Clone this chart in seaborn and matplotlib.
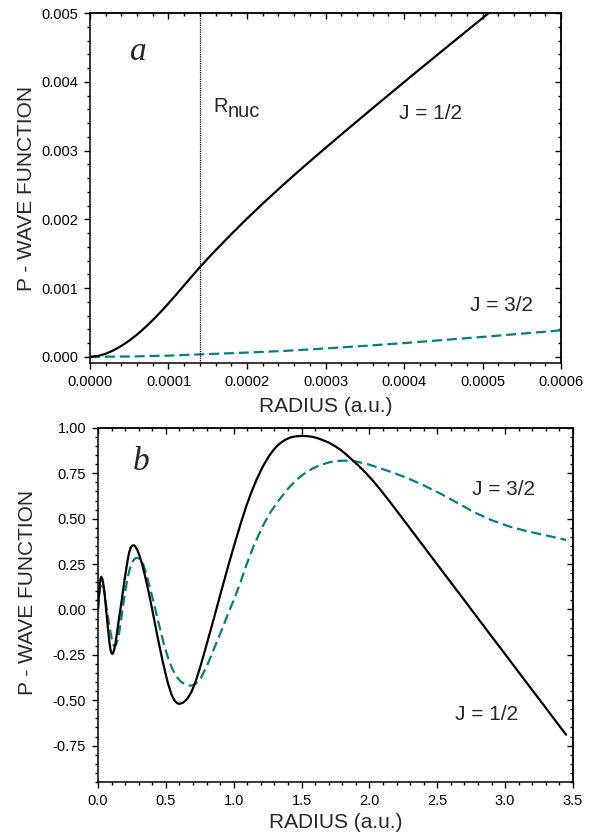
import matplotlib
matplotlib.use('Agg')
import matplotlib.pyplot as plt
import seaborn as sns
from matplotlib.ticker import MultipleLocator, FormatStrFormatter, NullFormatter

# ---- panel a: close to the nucleus ----
r_a_half = [0, 0.00001, 0.00002, 0.00003, 0.00004, 0.00005, 0.00006, 0.00007, 0.00008,
            0.00009, 0.0001, 0.00011, 0.00012, 0.00013, 0.00014, 0.00015, 0.00016,
            0.00018, 0.0002, 0.00022, 0.00024, 0.00026, 0.00028, 0.0003, 0.00032,
            0.00034, 0.00036, 0.00038, 0.0004, 0.00042, 0.00044, 0.00046, 0.00048,
            0.0005, 0.00052]
psi_a_half = [0, 0.000012, 0.000045, 0.000095, 0.000159, 0.000236, 0.000325, 0.000425,
              0.000535, 0.000653, 0.000778, 0.000908, 0.001041, 0.001174, 0.001304,
              0.001429, 0.00155, 0.001784, 0.00201, 0.002228, 0.002438, 0.002642,
              0.002842, 0.003038, 0.003232, 0.003424, 0.003615, 0.003805, 0.003994,
              0.004182, 0.004369, 0.004555, 0.004741, 0.004926, 0.005111]

r_a_3half = [0, 0.00005, 0.0001, 0.00014, 0.0002, 0.00025, 0.0003, 0.00035, 0.0004,
             0.00045, 0.0005, 0.00055, 0.0006]
psi_a_3half = [0, 0.000005, 0.000018, 0.000036, 0.000062, 0.000088, 0.000122, 0.00016,
               0.0002, 0.000245, 0.00029, 0.000337, 0.000386]

r_nuc = 0.00014

# ---- panel b: whole atom ----
r_b_half = [0, 0.006, 0.012, 0.018, 0.025, 0.031, 0.037, 0.043, 0.049, 0.06, 0.0735,
            0.084, 0.0934, 0.1, 0.106, 0.113, 0.12, 0.128, 0.14, 0.152, 0.168, 0.184,
            0.2, 0.216, 0.228, 0.24, 0.252, 0.2625, 0.275, 0.29, 0.3066, 0.325, 0.3434,
            0.362, 0.38, 0.4047, 0.4414, 0.478, 0.5, 0.515, 0.54, 0.564, 0.585, 0.601,
            0.63, 0.66, 0.69, 0.72, 0.75, 0.785, 0.82, 0.858, 0.895, 0.932, 0.968,
            1.005, 1.05, 1.091, 1.13, 1.17, 1.213, 1.26, 1.30, 1.336, 1.38, 1.42, 1.46,
            1.50, 1.537, 1.58, 1.62, 1.66, 1.704, 1.75, 1.79, 1.83, 1.875, 1.92, 1.97,
            2.02, 2.071, 2.13, 2.2, 2.292, 2.41, 2.537, 2.66, 2.782, 2.9, 3.027, 3.15,
            3.272, 3.36, 3.449]
psi_b_half = [0, 0.07, 0.13, 0.168, 0.18, 0.172, 0.15, 0.12, 0.085, 0.0, -0.105,
              -0.18, -0.225, -0.241, -0.245, -0.238, -0.22, -0.19, -0.13, -0.065, 0.015,
              0.1, 0.185, 0.26, 0.31, 0.339, 0.352, 0.354, 0.348, 0.328, 0.295, 0.25,
              0.195, 0.135, 0.072, -0.02, -0.16, -0.29, -0.36, -0.405, -0.465, -0.502,
              -0.517, -0.52, -0.512, -0.49, -0.452, -0.395, -0.325, -0.235, -0.14,
              -0.038, 0.065, 0.165, 0.262, 0.357, 0.47, 0.565, 0.645, 0.718, 0.785,
              0.845, 0.885, 0.912, 0.935, 0.948, 0.954, 0.956, 0.955, 0.951, 0.943,
              0.932, 0.918, 0.898, 0.878, 0.853, 0.823, 0.792, 0.755, 0.714, 0.669,
              0.613, 0.545, 0.454, 0.337, 0.211, 0.09, -0.031, -0.148, -0.273, -0.395,
              -0.515, -0.602, -0.69]

r_b_3half = [0, 0.008, 0.016, 0.0296, 0.038, 0.045, 0.053, 0.0615, 0.075, 0.0934, 0.105,
             0.115, 0.123, 0.132, 0.142, 0.152, 0.168, 0.184, 0.2, 0.2206, 0.24, 0.257,
             0.275, 0.294, 0.31, 0.331, 0.355, 0.38, 0.405, 0.429, 0.46, 0.49, 0.52,
             0.551, 0.58, 0.613, 0.65, 0.687, 0.72, 0.76, 0.80, 0.834, 0.875, 0.919,
             0.96, 1.005, 1.05, 1.091, 1.15, 1.213, 1.27, 1.336, 1.40, 1.459, 1.52,
             1.58, 1.63, 1.70, 1.76, 1.826, 1.90, 1.98, 2.071, 2.18, 2.292, 2.41,
             2.537, 2.66, 2.782, 2.90, 3.027, 3.15, 3.272, 3.36, 3.449]
psi_b_3half = [0, 0.07, 0.12, 0.146, 0.135, 0.11, 0.07, 0.017, -0.05, -0.13, -0.175,
               -0.198, -0.203, -0.195, -0.175, -0.148, -0.07, 0.017, 0.095, 0.183, 0.238,
               0.267, 0.282, 0.284, 0.278, 0.255, 0.2, 0.127, 0.055, -0.02, -0.115,
               -0.203, -0.275, -0.332, -0.372, -0.399, -0.415, -0.42, -0.41, -0.375,
               -0.315, -0.255, -0.18, -0.1, -0.02, 0.06, 0.15, 0.24, 0.355, 0.458, 0.535,
               0.605, 0.665, 0.712, 0.748, 0.776, 0.793, 0.81, 0.818, 0.82, 0.815, 0.802,
               0.78, 0.752, 0.72, 0.68, 0.633, 0.582, 0.532, 0.492, 0.458, 0.433, 0.413,
               0.398, 0.383]

sns.set_theme(style='ticks')
plt.rcParams['font.family'] = ['Liberation Sans', 'DejaVu Sans']
plt.rcParams['axes.unicode_minus'] = False

TEAL = '#008080'
DASH = (0, (4.5, 2.2))


def style_axis(ax, xlim, ylim, xmaj, xmin, ymaj, ymin, xfmt, yfmt):
    ax.set_xlim(*xlim)
    ax.set_ylim(*ylim)
    ax.xaxis.set_major_locator(MultipleLocator(xmaj))
    ax.xaxis.set_minor_locator(MultipleLocator(xmin))
    ax.yaxis.set_major_locator(MultipleLocator(ymaj))
    ax.yaxis.set_minor_locator(MultipleLocator(ymin))
    ax.xaxis.set_major_formatter(FormatStrFormatter(xfmt))
    ax.yaxis.set_major_formatter(FormatStrFormatter(yfmt))
    ax.tick_params(which='both', direction='out', width=1, colors='black',
                   labelsize=10.5, pad=4)
    ax.tick_params(which='major', length=4.5)
    ax.tick_params(which='minor', length=2.5)
    for s in ax.spines.values():
        s.set_visible(True)
        s.set_linewidth(1.1)
        s.set_color('black')
    # mirrored ticks pointing inward on top / right
    top = ax.secondary_xaxis('top')
    top.xaxis.set_major_locator(MultipleLocator(xmaj))
    top.xaxis.set_minor_locator(MultipleLocator(xmin))
    top.xaxis.set_major_formatter(NullFormatter())
    top.tick_params(which='both', direction='in', width=1, colors='black')
    top.tick_params(which='major', length=4.5)
    top.tick_params(which='minor', length=2.5)
    top.spines['top'].set_linewidth(1.1)
    right = ax.secondary_yaxis('right')
    right.yaxis.set_major_locator(MultipleLocator(ymaj))
    right.yaxis.set_minor_locator(MultipleLocator(ymin))
    right.yaxis.set_major_formatter(NullFormatter())
    right.tick_params(which='both', direction='in', width=1, colors='black')
    right.tick_params(which='major', length=4.5)
    right.tick_params(which='minor', length=2.5)
    right.spines['right'].set_linewidth(1.1)


fig = plt.figure(figsize=(5.96, 8.34), dpi=100)
ax_a = fig.add_axes([0.151, 0.5647, 0.7903, 0.4197])
ax_b = fig.add_axes([0.1644, 0.0624, 0.797, 0.4245])

# panel a
sns.lineplot(x=r_a_3half, y=psi_a_3half, ax=ax_a, color=TEAL, lw=1.6, linestyle=DASH, sort=False)
sns.lineplot(x=r_a_half, y=psi_a_half, ax=ax_a, color='black', lw=1.6, sort=False)
ax_a.axvline(r_nuc, color='black', lw=0.9, linestyle=(0, (1, 0.8)))
style_axis(ax_a, (0, 0.0006), (-0.00009, 0.005), 0.0001, 0.00002, 0.001, 0.0002, '%.4f', '%.3f')
ax_a.text(0.0000613, 0.00443, 'a', fontsize=24, family='Liberation Serif', style='italic',
          ha='center', va='center')
ax_a.text(0.0001571, 0.003563, 'R', fontsize=14.5, va='baseline')
ax_a.annotate('nuc', xy=(0.0001571, 0.003563), xytext=(10.5, -3.8), textcoords='offset points',
              fontsize=14.5, va='baseline')
ax_a.text(0.000434, 0.00354, 'J = 1/2', fontsize=15, ha='center', va='center')
ax_a.text(0.000524, 0.00074, 'J = 3/2', fontsize=15, ha='center', va='center')
ax_a.set_xlabel('RADIUS (a.u.)', fontsize=15)
ax_a.set_ylabel('P - WAVE FUNCTION', fontsize=15)
ax_a.xaxis.set_label_coords(0.5, -0.097)
ax_a.yaxis.set_label_coords(-0.115, 0.5)

# panel b
sns.lineplot(x=r_b_3half, y=psi_b_3half, ax=ax_b, color=TEAL, lw=1.6, linestyle=DASH, sort=False)
sns.lineplot(x=r_b_half, y=psi_b_half, ax=ax_b, color='black', lw=1.6, sort=False)
style_axis(ax_b, (0, 3.5), (-0.95, 1.0), 0.5, 0.1, 0.25, 0.05, '%.1f', '%.2f')
ax_b.text(0.319, 0.815, 'b', fontsize=24, family='Liberation Serif', style='italic',
          ha='center', va='center')
ax_b.text(2.99, 0.661, 'J = 3/2', fontsize=15, ha='center', va='center')
ax_b.text(2.862, -0.578, 'J = 1/2', fontsize=15, ha='center', va='center')
ax_b.set_xlabel('RADIUS (a.u.)', fontsize=15)
ax_b.set_ylabel('P - WAVE FUNCTION', fontsize=15)
ax_b.xaxis.set_label_coords(0.5, -0.087)
ax_b.yaxis.set_label_coords(-0.129, 0.534)

fig.savefig('out.png', dpi=100)
